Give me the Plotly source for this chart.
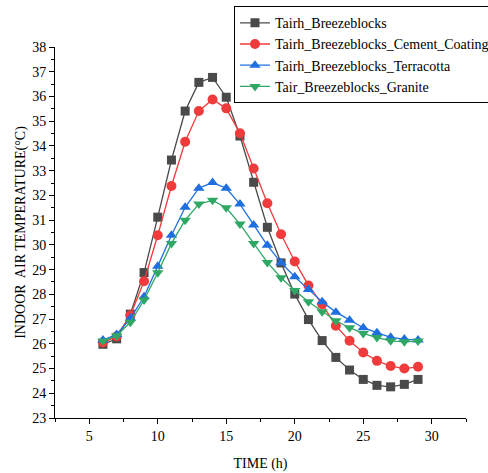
import plotly.graph_objects as go

hours = list(range(6, 30))
tairh_breezeblocks = [25.98, 26.2, 27.2, 28.88, 31.12, 33.43, 35.41, 36.57, 36.77, 35.97, 34.4, 32.53,
                      30.71, 29.27, 28.01, 26.98, 26.13, 25.45, 24.94, 24.56, 24.32, 24.26, 24.36, 24.56]
cement_coating = [26.05, 26.3, 27.15, 28.53, 30.39, 32.38, 34.17, 35.41, 35.88, 35.52, 34.51, 33.09,
                  31.68, 30.43, 29.33, 28.36, 27.6, 26.73, 26.12, 25.65, 25.31, 25.1, 25.0, 25.07]
terracotta = [26.15, 26.38, 27.03, 27.9, 29.14, 30.39, 31.52, 32.29, 32.52, 32.29, 31.65, 30.8,
              29.98, 29.28, 28.71, 28.2, 27.7, 27.28, 26.95, 26.65, 26.45, 26.26, 26.19, 26.15]
granite = [26.11, 26.33, 26.87, 27.77, 28.87, 30.06, 31.0, 31.65, 31.8, 31.5, 30.84, 30.06,
           29.29, 28.67, 28.15, 27.7, 27.3, 26.93, 26.65, 26.42, 26.25, 26.12, 26.08, 26.11]

names = ["Tairh_Breezeblocks", "Tairh_Breezeblocks_Cement_Coating",
         "Tairh_Breezeblocks_Terracotta", "Tair_Breezeblocks_Granite"]
series = [tairh_breezeblocks, cement_coating, terracotta, granite]
colors = ["#4a4a4a", "#ef3b3b", "#1f6fe0", "#2fa866"]
symbols = ["square", "circle", "triangle-up", "triangle-down"]

fig = go.Figure()
for name, ys, c, s in zip(names, series, colors, symbols):
    fig.add_trace(go.Scatter(
        x=hours, y=ys, name=name, mode="lines+markers",
        line=dict(color=c, width=1.3),
        marker=dict(symbol=s, size=10 if s != "square" else 9, color=c),
    ))

font = "Liberation Serif, Times New Roman, serif"
fig.update_layout(
    width=488, height=473,
    margin=dict(l=55, r=22, t=47, b=55, autoexpand=False),
    plot_bgcolor="white", paper_bgcolor="white",
    font=dict(family=font, size=14, color="black"),
    legend=dict(x=0.4355, y=1.11, xanchor="left", yanchor="top",
                bordercolor="black", borderwidth=1, bgcolor="white",
                font=dict(family=font, size=14), tracegroupgap=0,
                itemwidth=30),
    showlegend=True,
)
fig.update_xaxes(
    range=[2.5, 32.5], tickmode="linear", tick0=0, dtick=5,
    showline=True, linecolor="black", linewidth=1, showgrid=False, zeroline=False,
    ticks="outside", ticklen=5, tickcolor="black",
    minor=dict(ticks="outside", ticklen=3, dtick=2.5, tick0=0, tickcolor="black", showgrid=False),
    title=dict(text="TIME (h)", font=dict(family=font, size=14)),
    tickfont=dict(family=font, size=14),
)
fig.update_yaxes(
    range=[23, 38], tickmode="linear", tick0=23, dtick=1,
    showline=True, linecolor="black", linewidth=1, showgrid=False, zeroline=False,
    ticks="outside", ticklen=5, tickcolor="black",
    minor=dict(ticks="outside", ticklen=3, dtick=0.5, tick0=0, tickcolor="black", showgrid=False),
    title=dict(text="INDOOR  AIR TEMPERATURE(°C)", font=dict(family=font, size=14), standoff=3),
    tickfont=dict(family=font, size=14),
)
fig.write_html("out.html", config={"displayModeBar": False},
               post_script="document.body.style.margin='0';document.body.style.overflow='hidden';")
